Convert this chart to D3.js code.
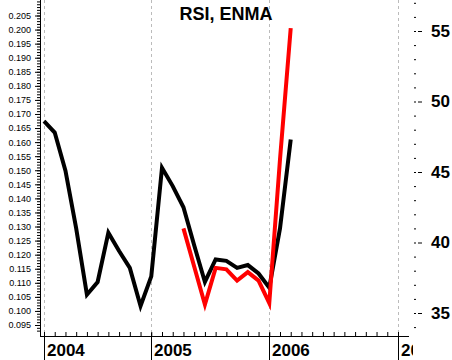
<!DOCTYPE html>
<html>
<head>
<meta charset="utf-8">
<script src="https://cdn.jsdelivr.net/npm/d3@7"></script>
<style>
    body { margin: 0; background: #fff; }
    svg { display: block; font-family: "Liberation Sans", Arial, sans-serif; }
    .axis text { fill: #000; }
</style>
</head>
<body>
<div id="dataViz"></div>
<script>
// chart data, month index 0 = first bar on the time axis
let months = d3.range(0, 24);
let rsi = [48.6, 47.8, 45.1, 41.0, 36.3, 37.2, 40.7, 39.4, 38.2, 35.5, 37.6, 45.3,
    44.0, 42.5, 39.8, 37.2, 38.8, 38.7, 38.2, 38.4, 37.8, 36.8, 41.0, 47.3];
let enmaMonths = d3.range(13, 24);
let enma = [41.0, 38.3, 35.6, 38.2, 38.1, 37.3, 37.9, 37.3, 35.7, 45.9, 55.2];

let yearIdx = [0, 10, 21, 33];
let yearLabels = ["2004", "2005", "2006", "2007"];
let leftTicks = d3.range(95, 206, 5).map(function (d) { return d / 1000; });
let leftMinor = d3.range(93, 211).map(function (d) { return d / 1000; });
let rightTicks = [35, 40, 45, 50, 55];
let rightMinor = d3.range(34, 58);

let width = 452, height = 360;
let axisY = 336, axisL = 40, axisR = 409;

let svg = d3.select("#dataViz")
    .append("svg")
    .attr("width", width)
    .attr("height", height);

// scales
let x = d3.scaleLinear().domain([0, 33]).range([44, 398]);
let yLeft = d3.scaleLinear().domain([0.095, 0.205]).range([325, 15.5]);
let yRight = d3.scaleLinear().domain([35, 55]).range([313, 31]);

// dashed year grid
svg.selectAll(".grid")
    .data(yearIdx)
    .enter()
    .append("line")
    .attr("x1", function (d) { return Math.round(x(d)) + 0.5 })
    .attr("x2", function (d) { return Math.round(x(d)) + 0.5 })
    .attr("y1", 0)
    .attr("y2", axisY)
    .attr("stroke", "#bbb")
    .attr("stroke-dasharray", "3,3");

// left axis
svg.append("g")
    .attr("class", "axis")
    .attr("transform", "translate(" + axisL + ",0)")
    .call(d3.axisLeft(yLeft).tickValues(leftMinor).tickSize(3).tickFormat(""))
    .call(function (g) { g.select(".domain").remove(); });
svg.append("g")
    .attr("class", "axis")
    .attr("transform", "translate(" + axisL + ",0)")
    .style("font-size", "9px")
    .call(d3.axisLeft(yLeft).tickValues(leftTicks).tickSize(5).tickPadding(4).tickFormat(d3.format(".3f")))
    .call(function (g) { g.select(".domain").remove(); });
svg.append("line")
    .attr("x1", axisL + 0.5).attr("x2", axisL + 0.5)
    .attr("y1", 0).attr("y2", axisY)
    .attr("stroke", "#000");

// right axis, no line
svg.append("g")
    .attr("class", "axis")
    .attr("transform", "translate(414,0)")
    .call(d3.axisRight(yRight).tickValues(rightMinor).tickSize(2).tickFormat(""))
    .call(function (g) { g.select(".domain").remove(); });
svg.append("g")
    .attr("class", "axis")
    .attr("transform", "translate(418,0)")
    .style("font-size", "17px")
    .style("font-weight", "bold")
    .call(d3.axisRight(yRight).tickValues(rightTicks).tickSize(4).tickPadding(9))
    .call(function (g) { g.select(".domain").remove(); });

// bottom axis
svg.append("defs").append("clipPath")
    .attr("id", "xclip")
    .append("rect")
    .attr("x", 0).attr("y", 0).attr("width", 413).attr("height", height);

let xg = svg.append("g").attr("clip-path", "url(#xclip)");
xg.append("g")
    .attr("class", "axis")
    .attr("transform", "translate(0," + axisY + ")")
    .call(d3.axisTop(x).tickValues(d3.range(0, 34)).tickSize(4).tickFormat(""))
    .call(function (g) { g.select(".domain").remove(); });
xg.append("line")
    .attr("x1", axisL).attr("x2", axisR)
    .attr("y1", axisY + 0.5).attr("y2", axisY + 0.5)
    .attr("stroke", "#000");
xg.selectAll(".yeartick")
    .data(yearIdx)
    .enter()
    .append("line")
    .attr("x1", function (d) { return Math.round(x(d)) + 0.5 })
    .attr("x2", function (d) { return Math.round(x(d)) + 0.5 })
    .attr("y1", axisY - 3)
    .attr("y2", height)
    .attr("stroke", "#000");
xg.selectAll(".yearlabel")
    .data(yearIdx)
    .enter()
    .append("text")
    .attr("x", function (d) { return Math.round(x(d)) + 3 })
    .attr("y", 356)
    .style("font-size", "17px")
    .style("font-weight", "bold")
    .text(function (d, i) { return yearLabels[i] });

// title
svg.append("text")
    .attr("x", 226)
    .attr("y", 20)
    .attr("text-anchor", "middle")
    .style("font-size", "18px")
    .style("font-weight", "bold")
    .text("RSI, ENMA");

// lines
svg.append("path")
    .datum(months)
    .attr("fill", "none")
    .attr("stroke", "#000")
    .attr("stroke-width", 4)
    .attr("d", d3.line()
        .x(function (d) { return x(d) })
        .y(function (d, i) { return yRight(rsi[i]) })
    );

svg.append("path")
    .datum(enmaMonths)
    .attr("fill", "none")
    .attr("stroke", "#f00")
    .attr("stroke-width", 4)
    .attr("d", d3.line()
        .x(function (d) { return x(d) })
        .y(function (d, i) { return yRight(enma[i]) })
    );
</script>
</body>
</html>
